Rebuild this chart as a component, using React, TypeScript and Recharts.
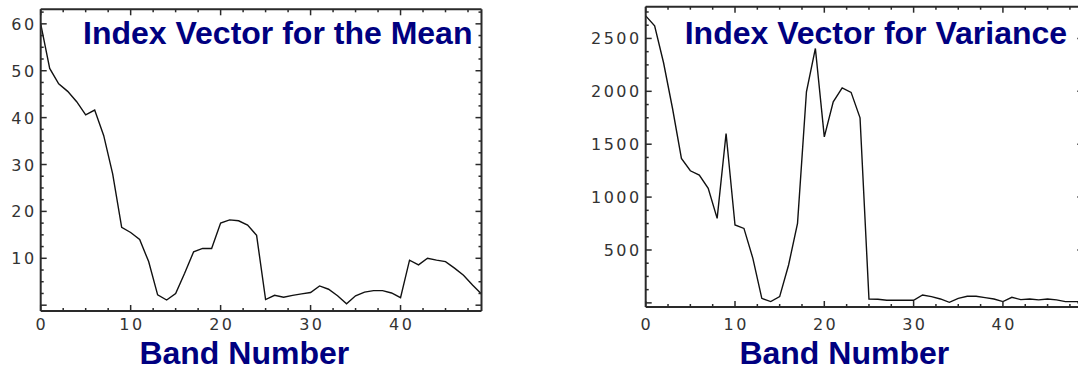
import React from "react";
import { LineChart, Line, XAxis, YAxis } from "recharts";

const bands = [
  0, 1, 2, 3, 4, 5, 6, 7, 8, 9, 10, 11, 12, 13, 14, 15, 16, 17, 18, 19, 20, 21, 22, 23, 24,
  25, 26, 27, 28, 29, 30, 31, 32, 33, 34, 35, 36, 37, 38, 39, 40, 41, 42, 43, 44, 45, 46, 47, 48, 49,
];

const meanIndex = [
  60, 50.5, 47.2, 45.6, 43.4, 40.6, 41.6, 36.2, 28, 16.6, 15.5, 14.0, 9.3, 2.2, 1.1, 2.5, 6.8,
  11.4, 12.1, 12.1, 17.5, 18.2, 18.0, 17.1, 14.9, 1.2, 2.1, 1.7, 2.1, 2.4, 2.7, 4.1, 3.4, 2.0,
  0.3, 2.0, 2.8, 3.1, 3.1, 2.6, 1.6, 9.6, 8.6, 10.0, 9.6, 9.3, 7.9, 6.4, 4.3, 2.4,
];

const varianceIndex = [
  2713, 2619, 2270, 1840, 1366, 1249, 1208, 1082, 799, 1601, 736, 704, 421, 43, 12, 59, 358,
  752, 1996, 2405, 1570, 1901, 2033, 1990, 1750, 37, 34, 25, 25, 25, 25, 75, 59, 37, 5, 43, 62,
  62, 50, 37, 12, 53, 31, 37, 28, 37, 28, 12, 12, 12,
];

// tick positions (minor every quarter of a major step)
const bandTicks = [0, 2.5, 5, 7.5, 10, 12.5, 15, 17.5, 20, 22.5, 25, 27.5, 30, 32.5, 35, 37.5, 40, 42.5, 45, 47.5];
const bandLabels = [0, 10, 20, 30, 40];

const meanTicks = [
  0, 2.5, 5, 7.5, 10, 12.5, 15, 17.5, 20, 22.5, 25, 27.5, 30, 32.5, 35, 37.5, 40, 42.5, 45,
  47.5, 50, 52.5, 55, 57.5, 60, 62.5,
];
const meanLabels = [10, 20, 30, 40, 50, 60];

const varianceTicks = [
  0, 125, 250, 375, 500, 625, 750, 875, 1000, 1125, 1250, 1375, 1500, 1625, 1750, 1875, 2000,
  2125, 2250, 2375, 2500, 2625, 2750,
];
const varianceLabels = [500, 1000, 1500, 2000, 2500];

const meanData = bands.map((b, i) => ({ band: b, value: meanIndex[i] }));
const varianceData = bands.map((b, i) => ({ band: b, value: varianceIndex[i] }));

const FRAME = "#2a2a2a";
const NAVY = "#000080";
const TICK_FONT = { fontFamily: "DejaVu Sans", fontSize: 16, fill: "#333", letterSpacing: 2.5 };

type Side = "bottom" | "top" | "left" | "right";

function makeTick(side: Side, majors: number[], labels: number[], labelOffset = 18) {
  return (props: any) => {
    const { x, y, payload } = props;
    const v = payload.value;
    const major = majors.includes(v);
    const len = major ? 6 : 3;
    let line;
    if (side === "bottom") line = <line x1={x} y1={y} x2={x} y2={y - len} />;
    else if (side === "top") line = <line x1={x} y1={y} x2={x} y2={y + len} />;
    else if (side === "left") line = <line x1={x} y1={y} x2={x + len} y2={y} />;
    else line = <line x1={x} y1={y} x2={x - len} y2={y} />;
    let label = null;
    if (labels.includes(v)) {
      if (side === "bottom")
        label = (
          <text x={x + 1.25} y={y + labelOffset} textAnchor="middle" {...TICK_FONT}>
            {v}
          </text>
        );
      else if (side === "left")
        label = (
          <text x={x - 4} y={y + 6} textAnchor="end" {...TICK_FONT}>
            {v}
          </text>
        );
    }
    return (
      <g>
        <g stroke={FRAME} strokeWidth={1.5}>{line}</g>
        {label}
      </g>
    );
  };
}

interface PanelProps {
  data: { band: number; value: number }[];
  left: number;
  width: number;
  margin: { top: number; right: number; bottom: number; left: number };
  yDomain: [number, number];
  yTicks: number[];
  yMajors: number[];
  yLabels: number[];
  xLabelOffset: number;
}

function Panel({ data, left, width, margin, yDomain, yTicks, yMajors, yLabels, xLabelOffset }: PanelProps) {
  const axisLine = { stroke: FRAME, strokeWidth: 2 };
  // axes are 1px thick (recharts skips 0-sized axes), so pull margins in by 1
  const m = {
    top: margin.top - 1,
    right: margin.right - 1,
    bottom: margin.bottom - 1,
    left: margin.left - 1,
  };
  return (
    <div style={{ position: "absolute", left, top: 0 }}>
      <LineChart width={width} height={369} data={data} margin={m}>
        <XAxis
          xAxisId="b"
          dataKey="band"
          type="number"
          domain={[0, 49]}
          allowDataOverflow
          ticks={bandTicks}
          interval={0}
          height={1}
          tickSize={0}
          tickMargin={0}
          tickLine={false}
          axisLine={axisLine}
          tick={makeTick("bottom", bandLabels, bandLabels, xLabelOffset)}
        />
        <XAxis
          xAxisId="t"
          orientation="top"
          dataKey="band"
          type="number"
          domain={[0, 49]}
          allowDataOverflow
          ticks={bandTicks}
          interval={0}
          height={1}
          tickSize={0}
          tickMargin={0}
          tickLine={false}
          axisLine={axisLine}
          tick={makeTick("top", bandLabels, [])}
        />
        <YAxis
          yAxisId="l"
          type="number"
          domain={yDomain}
          allowDataOverflow
          ticks={yTicks}
          interval={0}
          width={1}
          tickSize={0}
          tickMargin={0}
          tickLine={false}
          axisLine={axisLine}
          tick={makeTick("left", yMajors, yLabels)}
        />
        <YAxis
          yAxisId="r"
          orientation="right"
          type="number"
          domain={yDomain}
          allowDataOverflow
          ticks={yTicks}
          interval={0}
          width={1}
          tickSize={0}
          tickMargin={0}
          tickLine={false}
          axisLine={axisLine}
          tick={makeTick("right", yMajors, [])}
        />
        <Line
          xAxisId="b"
          yAxisId="l"
          type="linear"
          dataKey="value"
          stroke="#111"
          strokeWidth={1.4}
          dot={false}
          activeDot={false}
          isAnimationActive={false}
        />
      </LineChart>
    </div>
  );
}

const titleStyle = { fontFamily: "Liberation Sans, Arial, sans-serif", fontWeight: 700, fontSize: 32, fill: NAVY };

export default function App() {
  return (
    <div
      style={{
        position: "absolute",
        left: 0,
        top: 0,
        width: 1078,
        height: 369,
        overflow: "hidden",
        background: "#fff",
      }}
    >
      <Panel
        data={meanData}
        left={0}
        width={500}
        margin={{ top: 9.3, right: 18.5, bottom: 58, left: 40.7 }}
        yDomain={[-1.24, 63.1]}
        yTicks={meanTicks}
        yMajors={[0, 10, 20, 30, 40, 50, 60]}
        yLabels={meanLabels}
        xLabelOffset={18.5}
      />
      <Panel
        data={varianceData}
        left={560}
        width={540}
        margin={{ top: 6.7, right: 16.7, bottom: 62, left: 85.7 }}
        yDomain={[-39, 2800]}
        yTicks={varianceTicks}
        yMajors={[0, 500, 1000, 1500, 2000, 2500]}
        yLabels={varianceLabels}
        xLabelOffset={22.5}
      />
      <svg
        width={1078}
        height={369}
        style={{ position: "absolute", left: 0, top: 0, pointerEvents: "none" }}
      >
        <text x={83} y={44.3} {...titleStyle}>
          Index Vector for the Mean
        </text>
        <text x={684.7} y={44.3} {...titleStyle}>
          Index Vector for Variance
        </text>
        <text x={139.4} y={363.5} {...titleStyle}>
          Band Number
        </text>
        <text x={739.4} y={363.5} {...titleStyle}>
          Band Number
        </text>
      </svg>
    </div>
  );
}
